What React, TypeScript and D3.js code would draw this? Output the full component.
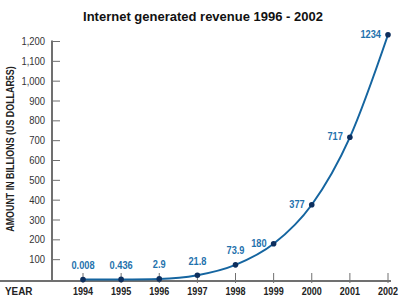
import React from 'react'
import * as d3 from 'd3'

const years = [1994, 1995, 1996, 1997, 1998, 1999, 2000, 2001, 2002]
const revenue = [0.008, 0.436, 2.9, 21.8, 73.9, 180, 377, 717, 1234]
const valueLabels = ['0.008', '0.436', '2.9', '21.8', '73.9', '180', '377', '717', '1234']
const yTicks = [100, 200, 300, 400, 500, 600, 700, 800, 900, 1000, 1100, 1200]

const W = 400
const H = 300
const axisX = 52
const baseY = 281

const font = 'Arial, "Liberation Sans", Helvetica, sans-serif'
const lineBlue = '#1565a0'
const labelBlue = '#1f72ad'
const dotColor = '#0d2f5e'

// text squeezed horizontally, standing in for a narrow typeface
function Narrow({
  x,
  y,
  sx = 0.85,
  rotate = 0,
  children,
  ...rest
}: { x: number; y: number; sx?: number; rotate?: number; children: React.ReactNode } & React.SVGProps<SVGTextElement>) {
  return (
    <text transform={`translate(${x},${y}) rotate(${rotate}) scale(${sx},1)`} {...rest}>
      {children}
    </text>
  )
}

export default function App() {
  const x = d3.scaleLinear().domain([1994, 2002]).range([83, 388])
  const y = d3.scaleLinear().domain([0, 1200]).range([baseY - 1.5, 41.5])
  const fmt = d3.format(',')

  const points = years.map((yr, i) => ({ yr, v: revenue[i], label: valueLabels[i] }))

  const line = d3
    .line<{ yr: number; v: number }>()
    .x(d => x(d.yr))
    .y(d => y(d.v))
    .curve(d3.curveMonotoneX)

  return (
    <svg
      width={W}
      height={H}
      style={{ position: 'absolute', left: 0, top: 0, background: '#fff' }}
      fontFamily={font}
    >
      <text x={203} y={21} textAnchor="middle" fontSize={13} fontWeight="bold" fill="#111">
        Internet generated revenue 1996 - 2002
      </text>

      {/* y axis */}
      <line x1={axisX} x2={axisX} y1={y(1200) - 1} y2={baseY} stroke="#707070" strokeWidth={2} />
      {yTicks.map(t => (
        <g key={t}>
          <line x1={axisX} x2={axisX + 8} y1={y(t)} y2={y(t)} stroke="#707070" strokeWidth={1} />
          <Narrow x={45} y={y(t) + 3.5} sx={0.9} textAnchor="end" fontSize={10.5} fill="#333">
            {fmt(t)}
          </Narrow>
        </g>
      ))}
      <Narrow x={14} y={149} rotate={-90} sx={0.89} textAnchor="middle" fontSize={10} fontWeight="bold" fill="#222">
        AMOUNT IN BILLIONS  (US DOLLAR5S)
      </Narrow>

      {/* x axis */}
      <line x1={0} x2={391} y1={baseY} y2={baseY} stroke="#707070" strokeWidth={2} />
      {years.map(yr => (
        <g key={yr}>
          <line x1={x(yr)} x2={x(yr)} y1={baseY - 8} y2={baseY + 2} stroke="#707070" strokeWidth={1} />
          <Narrow x={x(yr)} y={294.5} sx={0.82} textAnchor="middle" fontSize={11} fontWeight="bold" fill="#222">
            {yr}
          </Narrow>
        </g>
      ))}
      <Narrow x={5} y={294.5} sx={0.9} fontSize={11} fontWeight="bold" fill="#222">
        YEAR
      </Narrow>

      {/* revenue line */}
      <path d={line(points) ?? ''} fill="none" stroke={lineBlue} strokeWidth={2} />
      {points.map(p => (
        <circle key={p.yr} cx={x(p.yr)} cy={y(p.v)} r={2.8} fill={dotColor} />
      ))}
      {points.map(p =>
        p.yr < 1999 ? (
          <Narrow
            key={p.yr}
            x={x(p.yr)}
            y={y(p.v) - 10.5}
            sx={0.88}
            textAnchor="middle"
            fontSize={10.5}
            fontWeight="bold"
            fill={labelBlue}
          >
            {p.label}
          </Narrow>
        ) : (
          <Narrow
            key={p.yr}
            x={x(p.yr) - 7}
            y={y(p.v) + 3}
            sx={0.88}
            textAnchor="end"
            fontSize={10.5}
            fontWeight="bold"
            fill={labelBlue}
          >
            {p.label}
          </Narrow>
        )
      )}
    </svg>
  )
}
